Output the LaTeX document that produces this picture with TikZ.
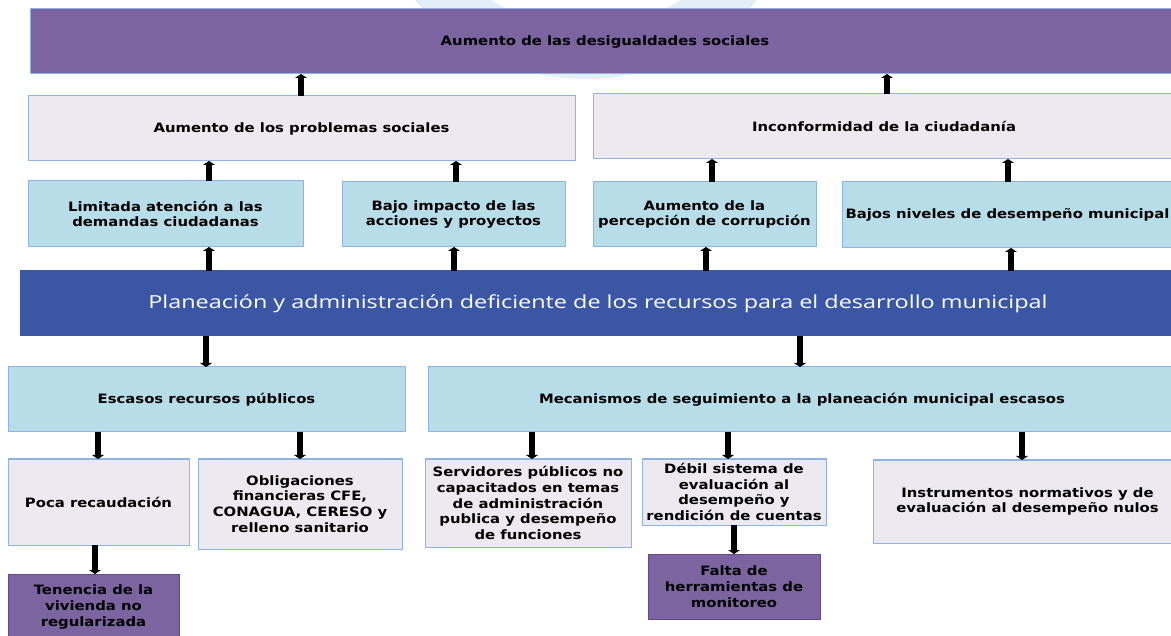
\documentclass[tikz,border=0pt]{standalone}
\usepackage{fontspec}
\usetikzlibrary{arrows.meta}
\newfontfamily\boxfont[FakeStretch=1.15]{DejaVu Sans}
\newfontfamily\barfont[FakeStretch=1.3]{Open Sans}
\definecolor{cpurple}{RGB}{123,100,160}
\definecolor{cpurpledk}{RGB}{96,74,140}
\definecolor{clav}{RGB}{236,233,241}
\definecolor{clb}{RGB}{183,221,232}
\definecolor{cbar}{RGB}{58,86,165}
\definecolor{cedge}{RGB}{142,180,227}
\definecolor{cswoosh}{RGB}{226,239,247}
\tikzset{
  basebox/.style={draw=cedge, line width=1pt, inner sep=0pt, outer sep=0pt, anchor=north west, align=center,
    font=\boxfont\bfseries\fontsize{12.9}{15.7}\selectfont, text=black},
  lav/.style={basebox, fill=clav},
  lb/.style={basebox, fill=clb},
  pur/.style={basebox, fill=cpurple},
  purdk/.style={basebox, fill=cpurple, draw=cpurpledk},
  barbox/.style={basebox, fill=cbar, draw=cbar, text=white, font=\barfont\fontsize{18}{22}\selectfont},
  arr/.style={line width=6.5pt, draw=black, -{Triangle[width=12pt,length=4pt]}}
}
\begin{document}
\begin{tikzpicture}[x=1pt,y=-1pt]
\useasboundingbox (0,0) rectangle (1171,636);
\clip (0,0) rectangle (1171,636);
\fill[white] (0,0) rectangle (1171,636);
% faint background swoosh (ring)
\fill[cswoosh, even odd rule] (586,-146) circle[radius=225] (586,-146) circle[radius=174];

% effects
\node[pur, minimum width=1150, minimum height=65] (top) at (30,9) {Aumento de las desigualdades sociales};
\node[lav, minimum width=547, minimum height=65] (prob) at (28,96) {Aumento de los problemas sociales};
\node[lav, minimum width=582, minimum height=65] (inconf) at (593,94) {Inconformidad de la ciudadanía};
\node[lb, minimum width=275, minimum height=66] (lim) at (28,181) {Limitada atención a las\\demandas ciudadanas};
\node[lb, minimum width=223, minimum height=65] (bajo) at (342,182) {Bajo impacto de las\\acciones y proyectos};
\node[lb, minimum width=223, minimum height=65] (perc) at (593,182) {Aumento de la\\percepción de corrupción};
\node[lb, minimum width=331, minimum height=66] (niv) at (842,182) {Bajos niveles de desempeño municipal};

% central problem
\node[barbox, minimum width=1156, minimum height=65] (bar) at (20,271) {Planeación y administración deficiente de los recursos para el desarrollo municipal};

% causes
\node[lb, minimum width=397, minimum height=65] (esc) at (8,367) {Escasos recursos públicos};
\node[lb, minimum width=748, minimum height=65] (mec) at (428,367) {Mecanismos de seguimiento a la planeación municipal escasos};
\node[lav, minimum width=181, minimum height=86] (poca) at (8,459) {Poca recaudación};
\node[lav, minimum width=204, minimum height=90] (oblig) at (198,459) {Obligaciones\\financieras CFE,\\CONAGUA, CERESO y\\relleno sanitario};
\node[lav, minimum width=206, minimum height=88] (serv) at (425,459) {Servidores públicos no\\capacitados en temas\\de administración\\publica y desempeño\\de funciones};
\node[lav, minimum width=184, minimum height=66] (debil) at (642,459) {Débil sistema de\\evaluación al\\desempeño y\\rendición de cuentas};
\node[lav, minimum width=309, minimum height=83] (instr) at (873,460) {Instrumentos normativos y de\\evaluación al desempeño nulos};
\node[purdk, minimum width=171, minimum height=66] (ten) at (8,574) {Tenencia de la\\vivienda no\\regularizada};
\node[purdk, minimum width=172, minimum height=65] (falta) at (648,554) {Falta de\\herramientas de\\monitoreo};

% arrows upward (effects)
\draw[arr] (301,0 |- prob.north) -- (301,0 |- top.south);
\draw[arr] (887,0 |- inconf.north) -- (887,0 |- top.south);
\draw[arr] (209,0 |- lim.north) -- (209,0 |- prob.south);
\draw[arr] (456,0 |- bajo.north) -- (456,0 |- prob.south);
\draw[arr] (712,0 |- perc.north) -- (712,0 |- inconf.south);
\draw[arr] (1008,0 |- niv.north) -- (1008,0 |- inconf.south);
\draw[arr] (209,0 |- bar.north) -- (209,0 |- lim.south);
\draw[arr] (454,0 |- bar.north) -- (454,0 |- bajo.south);
\draw[arr] (706,0 |- bar.north) -- (706,0 |- perc.south);
\draw[arr] (1011,0 |- bar.north) -- (1011,0 |- niv.south);
% arrows downward (causes)
\draw[arr] (206,0 |- bar.south) -- (206,0 |- esc.north);
\draw[arr] (800,0 |- bar.south) -- (800,0 |- mec.north);
\draw[arr] (98,0 |- esc.south) -- (98,0 |- poca.north);
\draw[arr] (300,0 |- esc.south) -- (300,0 |- oblig.north);
\draw[arr] (532,0 |- mec.south) -- (532,0 |- serv.north);
\draw[arr] (728,0 |- mec.south) -- (728,0 |- debil.north);
\draw[arr] (1022,0 |- mec.south) -- (1022,0 |- instr.north);
\draw[arr] (95,0 |- poca.south) -- (95,0 |- ten.north);
\draw[arr] (734,0 |- debil.south) -- (734,0 |- falta.north);
\end{tikzpicture}
\end{document}
